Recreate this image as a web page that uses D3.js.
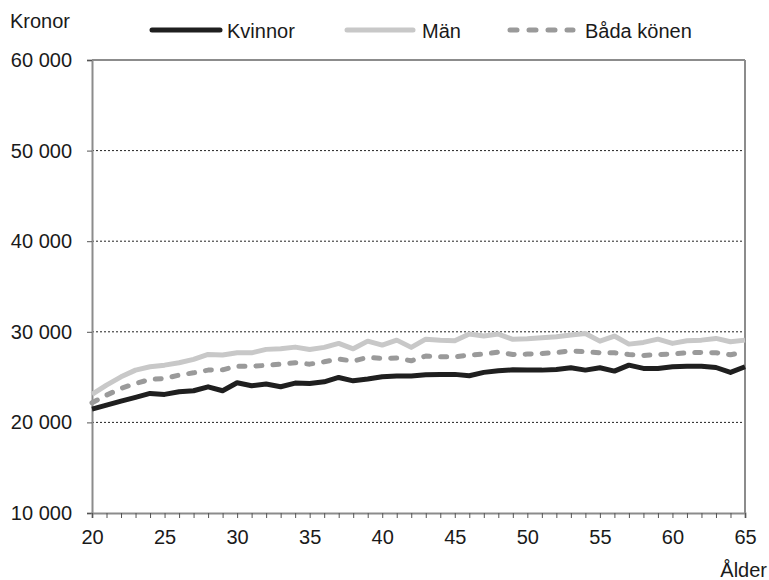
<!DOCTYPE html>
<html>
<head>
<meta charset="utf-8">
<script src="https://cdn.jsdelivr.net/npm/d3@7"></script>
<style>
  body { margin: 0; background: #fff; }
  text { font-family: "Liberation Sans", Arial, sans-serif; fill: #1a1a1a; }
</style>
</head>
<body>
<svg id="chart" width="769" height="580"></svg>
<script>
// age 20..65
var ages = d3.range(20, 66);

var kvinnor = [21470, 21900, 22350, 22760, 23200, 23090, 23380, 23490, 23930, 23490,
  24370, 24040, 24230, 23930, 24340, 24300, 24480, 24960, 24590, 24780,
  25030, 25110, 25110, 25260, 25300, 25300, 25150, 25520, 25700, 25800,
  25770, 25770, 25850, 26030, 25770, 26030, 25660, 26320, 25960, 25960,
  26140, 26210, 26210, 26060, 25520, 26140];

var man = [23090, 24120, 25030, 25770, 26140, 26320, 26580, 26950, 27500, 27430,
  27680, 27680, 28060, 28120, 28310, 28040, 28280, 28720, 28120, 28970,
  28530, 29080, 28280, 29190, 29080, 29010, 29750, 29530, 29750, 29170,
  29230, 29340, 29450, 29640, 29820, 28970, 29530, 28640, 28830, 29190,
  28720, 29010, 29080, 29270, 28900, 29080];

var bada = [22160, 23010, 23750, 24300, 24740, 24850, 25220, 25470, 25770, 25800,
  26210, 26210, 26290, 26430, 26580, 26430, 26690, 26990, 26770, 27170,
  27060, 27100, 26800, 27320, 27240, 27240, 27430, 27540, 27760, 27500,
  27540, 27610, 27720, 27900, 27800, 27690, 27690, 27500, 27390, 27500,
  27540, 27690, 27720, 27690, 27460, 27800];

var yTicks = [10000, 20000, 30000, 40000, 50000, 60000];
var xLabels = [20, 25, 30, 35, 40, 45, 50, 55, 60, 65];

var series = [
  { name: "Kvinnor", values: kvinnor, color: "#1f1f1f", dash: null },
  { name: "Män", values: man, color: "#c8c8c8", dash: null },
  { name: "Båda könen", values: bada, color: "#9a9a9a", dash: "6,11" }
];

var svg = d3.select("#chart");
var pLeft = 92, pRight = 745, pTop = 60, pBottom = 513;

var x = d3.scaleLinear().domain([20, 65]).range([pLeft, pRight]);
var y = d3.scaleLinear().domain([10000, 60000]).range([pBottom, pTop]);

var fmt = function(d) { return d3.format(",")(d).replace(/,/g, " "); };

// gridlines
svg.append("g").selectAll("line")
  .data([20000, 30000, 40000, 50000])
  .enter().append("line")
  .attr("x1", pLeft).attr("x2", pRight)
  .attr("y1", function(d) { return y(d); }).attr("y2", function(d) { return y(d); })
  .attr("stroke", "#222").attr("stroke-width", 1).attr("stroke-dasharray", "2,2");

// frame top + right
svg.append("line").attr("x1", pLeft).attr("x2", pRight).attr("y1", pTop).attr("y2", pTop)
  .attr("stroke", "#8c8c8c").attr("stroke-width", 2);
svg.append("line").attr("x1", pRight).attr("x2", pRight).attr("y1", pTop).attr("y2", pBottom)
  .attr("stroke", "#8c8c8c").attr("stroke-width", 2);

// y axis
var yAxis = svg.append("g")
  .attr("transform", "translate(" + pLeft + ",0)")
  .call(d3.axisLeft(y).tickValues(yTicks).tickFormat(fmt).tickSize(5).tickPadding(15));
yAxis.select(".domain").attr("stroke", "#8c8c8c").attr("stroke-width", 2);
yAxis.selectAll(".tick line").attr("stroke", "#555");
yAxis.selectAll("text").style("font-size", "20px").attr("fill", "#1a1a1a");

// x axis
var xAxis = svg.append("g")
  .attr("transform", "translate(0," + pBottom + ")")
  .call(d3.axisBottom(x).tickValues(ages).tickFormat(function(d) { return xLabels.indexOf(d) >= 0 ? d : ""; })
    .tickSize(5).tickPadding(12));
xAxis.select(".domain").attr("stroke", "#8c8c8c").attr("stroke-width", 2);
xAxis.selectAll(".tick line").attr("stroke", "#555");
xAxis.selectAll("text").style("font-size", "20px").attr("fill", "#1a1a1a");

// lines
var line = d3.line()
  .x(function(d, i) { return x(ages[i]); })
  .y(function(d) { return y(d); });

series.forEach(function(s) {
  svg.append("path")
    .datum(s.values)
    .attr("d", line)
    .attr("fill", "none")
    .attr("stroke", s.color)
    .attr("stroke-width", 5)
    .attr("stroke-linejoin", "round")
    .attr("stroke-linecap", s.dash ? "round" : "butt")
    .attr("stroke-dasharray", s.dash);
});

// legend
var legend = [
  { x1: 152, x2: 220, tx: 227 },
  { x1: 347, x2: 413, tx: 422 },
  { x1: 510, x2: 573, tx: 585 }
];
series.forEach(function(s, i) {
  var L = legend[i];
  svg.append("line").attr("x1", L.x1).attr("x2", L.x2).attr("y1", 30).attr("y2", 30)
    .attr("stroke", s.color).attr("stroke-width", 5)
    .attr("stroke-linecap", "round")
    .attr("stroke-dasharray", s.dash ? "7,12" : null);
  svg.append("text").attr("x", L.tx).attr("y", 37.5).style("font-size", "20px").text(s.name);
});

// axis titles
svg.append("text").attr("x", 10).attr("y", 28).style("font-size", "20px").text("Kronor");
svg.append("text").attr("x", 767).attr("y", 577).attr("text-anchor", "end").style("font-size", "20px").text("Ålder");
</script>
</body>
</html>
